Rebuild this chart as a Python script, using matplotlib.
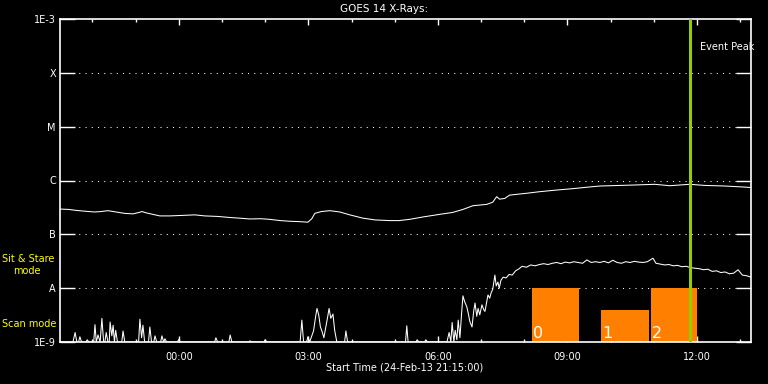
import matplotlib
matplotlib.use("Agg")
import matplotlib.pyplot as plt
import numpy as np

# time in hours relative to 00:00 (start 21:15 the day before)
t_start = -2.75
t_end = 13.25

# GOES long channel (1-8 A)
long_t = [-2.75, -2.55, -2.40, -2.20, -1.95, -1.80, -1.64, -1.45, -1.25, -1.06,
          -0.92, -0.85, -0.75, -0.60, -0.44, -0.20, 0.10, 0.37, 0.60, 0.90,
          1.20, 1.40, 1.64, 1.90, 2.10, 2.35, 2.57, 2.80, 2.99, 3.08,
          3.15, 3.30, 3.50, 3.73, 3.96, 4.26, 4.55, 4.89, 5.10, 5.35,
          5.65, 6.04, 6.34, 6.58, 6.81, 7.13, 7.27, 7.36, 7.43, 7.55,
          7.66, 8.06, 8.36, 8.75, 9.12, 9.45, 9.75, 9.98, 10.56, 11.02,
          11.37, 11.83, 12.18, 12.64, 13.10, 13.25]
long_flux = [2.95e-7, 2.9e-7, 2.8e-7, 2.7e-7, 2.6e-7, 2.65e-7, 2.75e-7, 2.6e-7, 2.45e-7, 2.4e-7,
             2.55e-7, 2.65e-7, 2.5e-7, 2.35e-7, 2.2e-7, 2.2e-7, 2.25e-7, 2.3e-7, 2.2e-7, 2.15e-7,
             2.05e-7, 2.0e-7, 1.93e-7, 1.95e-7, 1.9e-7, 1.8e-7, 1.75e-7, 1.72e-7, 1.68e-7, 1.95e-7,
             2.45e-7, 2.65e-7, 2.75e-7, 2.6e-7, 2.3e-7, 2.0e-7, 1.85e-7, 1.8e-7, 1.8e-7, 1.9e-7,
             2.1e-7, 2.35e-7, 2.55e-7, 2.9e-7, 3.4e-7, 3.6e-7, 3.95e-7, 5.0e-7, 4.5e-7, 4.65e-7,
             5.35e-7, 5.8e-7, 6.2e-7, 6.65e-7, 7.05e-7, 7.5e-7, 7.9e-7, 8.0e-7, 8.25e-7, 8.5e-7,
             8.0e-7, 8.5e-7, 8.1e-7, 7.9e-7, 7.55e-7, 7.4e-7]

# GOES short channel (0.5-4 A)
short_t = [-2.75, -2.45, -2.40, -2.36, -2.32, -2.29, -2.25, -2.15, -2.12, -2.08,
           -1.97, -1.94, -1.91, -1.87, -1.82, -1.78, -1.74, -1.71, -1.68, -1.64,
           -1.61, -1.59, -1.55, -1.52, -1.49, -1.46, -1.42, -1.32, -1.29, -1.25,
           -0.93, -0.90, -0.86, -0.83, -0.79, -0.70, -0.67, -0.63, -0.58, -0.55,
           -0.51, -0.42, -0.39, -0.35, -0.32, -0.28, -0.03, 0.00, 0.04, 0.83,
           0.86, 0.90, 1.16, 1.19, 1.23, 1.62, 1.65, 1.69, 1.97, 2.00,
           2.04, 2.81, 2.85, 2.89, 2.96, 2.99, 3.03, 3.12, 3.17, 3.20,
           3.24, 3.28, 3.32, 3.36, 3.41, 3.45, 3.48, 3.52, 3.57, 3.61,
           3.66, 3.84, 3.87, 3.91, 5.25, 5.28, 5.31, 5.49, 5.52, 5.56,
           5.69, 5.72, 5.76, 6.21, 6.26, 6.30, 6.33, 6.37, 6.40, 6.44,
           6.47, 6.51, 6.55, 6.58, 6.62, 6.67, 6.70, 6.74, 6.79, 6.83,
           6.86, 6.90, 6.93, 6.97, 7.02, 7.06, 7.09, 7.13, 7.16, 7.20,
           7.23, 7.27, 7.32, 7.35, 7.39, 7.42, 7.46, 7.51, 7.58, 7.65,
           7.72, 7.80, 7.88, 7.95, 8.05, 8.15, 8.25, 8.35, 8.45, 8.55,
           8.65, 8.75, 8.85, 8.95, 9.05, 9.15, 9.25, 9.35, 9.45, 9.55,
           9.65, 9.75, 9.85, 9.95, 10.05, 10.15, 10.25, 10.35, 10.45, 10.55,
           10.65, 10.75, 10.85, 10.98, 11.05, 11.15, 11.25, 11.35, 11.45, 11.55,
           11.65, 11.75, 11.85, 11.95, 12.05, 12.15, 12.25, 12.35, 12.45, 12.55,
           12.65, 12.75, 12.85, 12.95, 13.05, 13.15, 13.25]
short_flux = [1.0e-9, 1.0e-9, 1.5e-9, 1.0e-9, 1.0e-9, 1.25e-9, 1.0e-9, 1.0e-9, 1.1e-9, 1.0e-9,
              1.0e-9, 2.1e-9, 1.0e-9, 1.35e-9, 1.0e-9, 2.75e-9, 1.0e-9, 1.0e-9, 1.5e-9, 1.0e-9,
              1.0e-9, 2.35e-9, 1.3e-9, 2.05e-9, 1.0e-9, 1.65e-9, 1.0e-9, 1.0e-9, 1.6e-9, 1.0e-9,
              1.0e-9, 2.65e-9, 1.2e-9, 2.05e-9, 1.0e-9, 1.0e-9, 1.9e-9, 1.0e-9, 1.0e-9, 1.3e-9,
              1.0e-9, 1.0e-9, 1.3e-9, 1.0e-9, 1.15e-9, 1.0e-9, 1.0e-9, 1.12e-9, 1.0e-9, 1.0e-9,
              1.2e-9, 1.0e-9, 1.0e-9, 1.35e-9, 1.0e-9, 1.0e-9, 1.05e-9, 1.0e-9, 1.0e-9, 1.1e-9,
              1.0e-9, 1.0e-9, 2.55e-9, 1.0e-9, 1.0e-9, 1.25e-9, 1.0e-9, 1.6e-9, 3.0e-9, 4.2e-9,
              3.2e-9, 1.9e-9, 1.55e-9, 1.2e-9, 2.0e-9, 3.0e-9, 4.2e-9, 2.75e-9, 3.3e-9, 1.65e-9,
              1.0e-9, 1.0e-9, 1.6e-9, 1.0e-9, 1.0e-9, 2.0e-9, 1.0e-9, 1.0e-9, 1.1e-9, 1.0e-9,
              1.0e-9, 1.1e-9, 1.0e-9, 1.0e-9, 1.5e-9, 1.0e-9, 2.3e-9, 1.0e-9, 1.65e-9, 1.1e-9,
              2.55e-9, 1.2e-9, 3.5e-9, 7.2e-9, 5.6e-9, 4.5e-9, 3.5e-9, 2.4e-9, 1.9e-9, 3.8e-9,
              5.3e-9, 3.0e-9, 4.2e-9, 3.2e-9, 4.9e-9, 4.0e-9, 3.7e-9, 5.5e-9, 7.5e-9, 6.5e-9,
              8.1e-9, 9.5e-9, 1.75e-8, 1.1e-8, 1.3e-8, 1.0e-8, 1.4e-8, 1.6e-8, 1.55e-8, 1.8e-8,
              1.75e-8, 2.1e-8, 2.3e-8, 2.55e-8, 2.45e-8, 2.7e-8, 2.6e-8, 2.75e-8, 2.85e-8, 2.75e-8,
              2.9e-8, 3.0e-8, 2.85e-8, 3.05e-8, 2.95e-8, 3.1e-8, 3.0e-8, 2.9e-8, 3.35e-8, 3.0e-8,
              3.1e-8, 3.0e-8, 3.15e-8, 2.95e-8, 3.3e-8, 3.0e-8, 2.9e-8, 3.1e-8, 3.0e-8, 3.15e-8,
              3.05e-8, 3.0e-8, 3.1e-8, 3.6e-8, 2.9e-8, 2.8e-8, 2.7e-8, 2.75e-8, 2.6e-8, 2.65e-8,
              2.5e-8, 2.55e-8, 2.4e-8, 2.35e-8, 2.3e-8, 2.2e-8, 2.25e-8, 2.05e-8, 2.1e-8, 1.95e-8,
              2.0e-8, 1.85e-8, 1.9e-8, 2.2e-8, 1.75e-8, 1.7e-8, 1.6e-8]

# observation blocks (start, end, top)
obs_labels = ["0", "1", "2"]
obs_start = [8.17, 9.77, 10.93]
obs_end = [9.26, 10.88, 12.01]
obs_top = [1.0e-8, 3.9e-9, 1.0e-8]

event_peak = 11.83

y_levels = [1e-9, 1e-8, 1e-7, 1e-6, 1e-5, 1e-4, 1e-3]
y_labels = ["1E-9", "A", "B", "C", "M", "X", "1E-3"]
x_major = [0, 3, 6, 9, 12]
x_labels = ["00:00", "03:00", "06:00", "09:00", "12:00"]

fig = plt.figure(figsize=(7.68, 3.84), dpi=100, facecolor="black")
ax = fig.add_axes([60 / 768, 42 / 384, 691 / 768, 323 / 384], facecolor="black")

ax.set_yscale("log")
ax.set_xlim(t_start, t_end)
ax.set_ylim(1e-9, 1e-3)

for lvl in y_levels[1:-1]:
    ax.axhline(lvl, color="white", lw=0.75, linestyle=(0, (1, 5)), zorder=1)

for s, e, top, lab in zip(obs_start, obs_end, obs_top, obs_labels):
    ax.bar(s, top - 1e-9, width=e - s, bottom=1e-9, align="edge",
           color="#ff8000", zorder=2)
    ax.text(s + 0.03, 1.05e-9, lab, color="white", fontsize=11.5,
            ha="left", va="bottom", zorder=3)

ax.plot(long_t, long_flux, color="white", lw=0.75, zorder=4)
ax.plot(short_t, short_flux, color="white", lw=0.75, zorder=4)

ax.axvline(event_peak, color="#99cc00", lw=2.2, zorder=5)
ax.text(event_peak + 0.23, 3e-4, "Event Peak", color="white", fontsize=7,
        ha="left", va="center", clip_on=False)

for sp in ax.spines.values():
    sp.set_color("white")
    sp.set_linewidth(1.2)

ax.set_yticks(y_levels)
ax.set_yticklabels(y_labels)
ax.yaxis.set_minor_locator(matplotlib.ticker.NullLocator())
ax.tick_params(axis="y", which="major", direction="in", length=10.8, width=1,
               colors="white", labelsize=7, left=True, right=True, pad=3)

ax.set_xticks(x_major)
ax.set_xticklabels(x_labels)
ax.set_xticks(np.arange(-2, 14), minor=True)
ax.tick_params(axis="x", which="major", direction="in", length=4.5, width=1,
               colors="white", labelsize=7, top=True, bottom=True, pad=7)
ax.tick_params(axis="x", which="minor", direction="in", length=2.3, width=1,
               colors="white", top=True, bottom=True)

fig.text(0.5, 1 - 9 / 384, "GOES 14 X-Rays:", color="white", fontsize=7.5,
         ha="center", va="center")
fig.text(405 / 768, 1 - 368 / 384, "Start Time (24-Feb-13 21:15:00)", color="white",
         fontsize=7, ha="center", va="center")

fig.text(2 / 768, 1 - 259 / 384, "Sit & Stare", color="#ffff00", fontsize=7,
         ha="left", va="center")
fig.text(13 / 768, 1 - 271 / 384, "mode", color="#ffff00", fontsize=7,
         ha="left", va="center")
fig.text(2 / 768, 1 - 324 / 384, "Scan mode", color="#ffff00", fontsize=7,
         ha="left", va="center")

fig.savefig("out.png", dpi=100, facecolor="black")
